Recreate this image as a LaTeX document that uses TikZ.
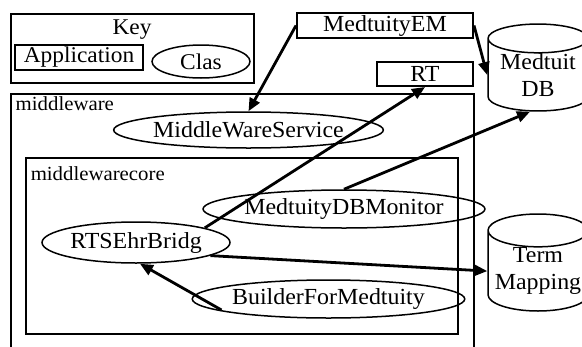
\documentclass[tikz,border=0pt]{standalone}
\usepackage{fontspec}
\setmainfont{Liberation Serif}[FakeStretch=1.04]
\usetikzlibrary{arrows.meta,shapes.geometric}

\begin{document}
\begin{tikzpicture}[x=1pt,y=-1pt,>={Triangle[length=13pt,width=11pt]},
  line width=1.5pt,font=\fontsize{23}{25}\selectfont]
  \tikzstyle{cls}=[ellipse,draw,inner sep=0pt]
  \tikzstyle{appbox}=[rectangle,draw,inner sep=0pt,line width=2pt]
  \tikzstyle{store}=[cylinder,shape border rotate=90,aspect=0.38,draw,
    inner sep=0pt,align=center,anchor=shape center,
    font=\fontsize{23}{27}\selectfont]
  \tikzstyle{group}=[rectangle,draw,anchor=north west,inner sep=0pt]
  \tikzstyle{grouplabel}=[anchor=west,inner sep=0pt,font=\fontsize{20}{22}\selectfont]
  \tikzstyle{dep}=[->,line width=2.8pt]

  \path[use as bounding box,clip] (0,0) rectangle (582,346);

  \node[group,line width=2.2pt,minimum width=243pt,minimum height=69pt] (key) at (10,13) {};
  \node (keylabel) at (132,30) {\fontsize{22.5}{24}\selectfont Key};
  \node[appbox,minimum width=128pt,minimum height=25pt] (keyapp) at (79,57.5) {\fontsize{22.5}{24}\selectfont Application};
  \node[cls,minimum width=98pt,minimum height=33pt] (keycls) at (201,61.5) {\fontsize{22.5}{24}\selectfont Clas};

  \node[group,minimum width=463pt,minimum height=270pt] (mw) at (10,93) {};
  \node[grouplabel] (mwlabel) at (15,104) {middleware};
  \node[group,minimum width=432pt,minimum height=176pt] (core) at (25,157) {};
  \node[grouplabel] (corelabel) at (30,174) {middlewarecore};

  \node[appbox,minimum width=176pt,minimum height=25pt] (em) at (385,25.5) {MedtuityEM};
  \node[appbox,minimum width=96pt,minimum height=24pt]  (rt) at (425,74)   {RT};
  \node[store,minimum width=100pt,minimum height=79pt]  (db) at (538,67.5) {Medtuit\\DB};
  \node[store,minimum width=100pt,minimum height=79pt]  (tm) at (538,262.5) {Term\\Mapping};

  \node[cls,minimum width=257pt,minimum height=36pt] (mws) at (248.5,130) {MiddleWareService};
  \node[cls,minimum width=222pt,minimum height=38pt] (mon) at (344,209)   {MedtuityDBMonitor};
  \node[cls,minimum width=188pt,minimum height=41pt] (rts) at (136,242.5) {RTSEhrBridg};
  \node[cls,minimum width=223pt,minimum height=38pt] (bfm) at (328.5,299) {BuilderForMedtuity};

  \path[dep] (em.west)   edge (mws.north)
             (em.east)   edge (db.west)
             (rts.12)    edge (rt.south)
             (mon.north) edge ([xshift=-8pt]db.south)
             (rts.-10)   edge (tm.west)
             ([xshift=30pt,yshift=-11pt]bfm.west) edge ([xshift=4pt]rts.south);
\end{tikzpicture}
\end{document}
